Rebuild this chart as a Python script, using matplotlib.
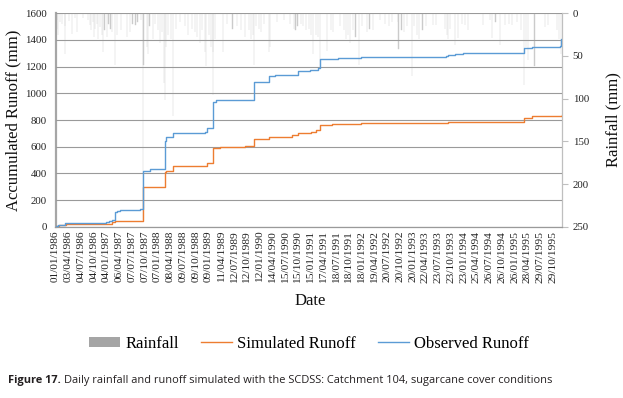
import matplotlib
matplotlib.use("Agg")
import matplotlib.pyplot as plt
from matplotlib.patches import Patch
from matplotlib.lines import Line2D
import pandas as pd

# ---------------- data ----------------
tick_labels = ["01/01/1986", "03/04/1986", "04/07/1986", "04/10/1986", "04/01/1987",
               "06/04/1987", "07/07/1987", "07/10/1987", "07/01/1988", "08/04/1988",
               "09/07/1988", "09/10/1988", "09/01/1989", "11/04/1989", "12/07/1989",
               "12/10/1989", "12/01/1990", "14/04/1990", "15/07/1990", "15/10/1990",
               "15/01/1991", "17/04/1991", "18/07/1991", "18/10/1991", "18/01/1992",
               "19/04/1992", "20/07/1992", "20/10/1992", "20/01/1993", "22/04/1993",
               "23/07/1993", "23/10/1993", "23/01/1994", "25/04/1994", "26/07/1994",
               "26/10/1994", "26/01/1995", "28/04/1995", "29/07/1995", "29/10/1995"]

obs_dates = ["1986-01-01", "1986-01-15", "1986-03-10", "1986-12-31", "1987-01-20",
             "1987-02-10", "1987-03-05", "1987-03-20", "1987-04-10", "1987-06-15",
             "1987-09-01", "1987-09-26", "1987-11-15", "1988-02-15", "1988-03-01",
             "1988-03-10", "1988-04-25", "1988-12-15", "1988-12-25", "1989-02-07",
             "1989-03-05", "1989-12-01", "1989-12-05", "1990-03-20", "1990-05-01",
             "1990-10-01", "1990-10-15", "1991-01-10", "1991-03-10", "1991-03-25",
             "1991-08-01", "1992-01-15", "1993-09-20", "1993-10-01", "1993-11-20",
             "1994-01-15", "1995-03-15", "1995-04-05", "1995-06-01", "1995-12-20",
             "1995-12-28", "1995-12-31"]
obs_vals = [5, 12, 30, 32, 42, 50, 110, 118, 122, 127, 130, 420, 430, 432, 640,
            675, 705, 710, 742, 938, 948, 952, 1082, 1130, 1135, 1140, 1168, 1178,
            1187, 1257, 1268, 1275, 1277, 1288, 1295, 1300, 1302, 1342, 1350, 1352,
            1405, 1405]

sim_dates = ["1986-01-01", "1986-01-25", "1986-03-20", "1987-02-05", "1987-02-12",
             "1987-03-05", "1987-09-26", "1988-03-01", "1988-03-10", "1988-04-25",
             "1988-12-20", "1988-12-25", "1989-02-07", "1989-04-01", "1989-10-01",
             "1989-12-05", "1990-03-20", "1990-09-01", "1990-10-15", "1991-01-15",
             "1991-02-20", "1991-03-25", "1991-06-15", "1992-01-15", "1993-10-01",
             "1994-01-15", "1995-04-05", "1995-06-01", "1995-12-31"]
sim_vals = [5, 10, 17, 20, 38, 42, 300, 410, 420, 455, 458, 478, 587, 598, 605,
            655, 675, 690, 705, 710, 728, 760, 770, 775, 782, 788, 818, 828, 835]

rain_dates = ["1986-01-08", "1986-01-12", "1986-01-20", "1986-02-02", "1986-02-15",
              "1986-03-08", "1986-03-12", "1986-04-10", "1986-04-27", "1986-05-20",
              "1986-06-02", "1986-07-15", "1986-08-20", "1986-09-05", "1986-09-15",
              "1986-09-28", "1986-10-05", "1986-10-15", "1986-10-25", "1986-11-05",
              "1986-11-18", "1986-12-01", "1986-12-07", "1986-12-20",
              "1987-01-05", "1987-01-18", "1987-02-01", "1987-02-12", "1987-03-05",
              "1987-03-20", "1987-04-15", "1987-05-31", "1987-06-20", "1987-07-10",
              "1987-08-01", "1987-08-15", "1987-09-10", "1987-09-26", "1987-09-27",
              "1987-10-22", "1987-10-28", "1987-11-10", "1987-12-05", "1987-12-20",
              "1988-01-10", "1988-01-25", "1988-02-10", "1988-02-25", "1988-03-01",
              "1988-03-05", "1988-03-20", "1988-04-10", "1988-04-28", "1988-05-20",
              "1988-06-15", "1988-07-20", "1988-08-15", "1988-09-10", "1988-10-01",
              "1988-10-20", "1988-11-10", "1988-11-25", "1988-12-15", "1988-12-22",
              "1989-01-10", "1989-01-25", "1989-02-07", "1989-02-08", "1989-02-25",
              "1989-04-26", "1989-05-20", "1989-06-30", "1989-08-01", "1989-09-01",
              "1989-10-01", "1989-10-25", "1989-11-10", "1989-11-25", "1989-12-03",
              "1989-12-20",
              "1990-01-10", "1990-01-25", "1990-02-10", "1990-03-18", "1990-03-28",
              "1990-05-15", "1990-07-10", "1990-08-20", "1990-09-15", "1990-09-28",
              "1990-10-12", "1990-11-05", "1990-11-20", "1990-12-10",
              "1991-01-05", "1991-01-20", "1991-02-01", "1991-02-20", "1991-03-10",
              "1991-03-24", "1991-05-12", "1991-06-10", "1991-06-27", "1991-08-15",
              "1991-09-10", "1991-09-25", "1991-10-10", "1991-10-28", "1991-11-15",
              "1991-12-05", "1991-12-30",
              "1992-01-20", "1992-02-26", "1992-03-15", "1992-04-08", "1992-06-01",
              "1992-07-06", "1992-08-01", "1992-08-26", "1992-10-05", "1992-10-10",
              "1992-11-01", "1992-11-20", "1992-12-10",
              "1993-01-15", "1993-02-01", "1993-02-20", "1993-03-10", "1993-04-01",
              "1993-04-25", "1993-06-15", "1993-07-10", "1993-09-10", "1993-09-25",
              "1993-10-05", "1993-10-18", "1993-11-23", "1993-12-15",
              "1994-01-10", "1994-02-02", "1994-02-24", "1994-06-13", "1994-08-01",
              "1994-08-15", "1994-09-10", "1994-10-14", "1994-11-19", "1994-12-15",
              "1995-01-08", "1995-02-15", "1995-03-15", "1995-04-03", "1995-04-20",
              "1995-05-02", "1995-06-18", "1995-09-04", "1995-09-26", "1995-11-25",
              "1995-12-10", "1995-12-26"]
rain_mm = [18, 8, 25, 10, 12, 48, 15, 9, 24, 6,
           22, 5, 8, 14, 20, 10, 28, 18, 12, 30,
           16, 25, 45, 20,
           28, 12, 18, 22, 60, 26, 20, 28, 22, 12,
           14, 10, 8, 242, 60, 40, 48, 15, 30, 12,
           20, 35, 22, 82, 101, 40, 25, 30, 120, 18,
           10, 15, 25, 18, 22, 28, 35, 20, 45, 62,
           25, 40, 96, 45, 30, 45, 12, 18, 15, 20,
           28, 20, 30, 25, 60, 15,
           18, 22, 12, 45, 40, 10, 8, 12, 18, 20,
           15, 12, 15, 20,
           18, 25, 48, 25, 28, 64, 44, 20, 22, 15,
           20, 30, 25, 35, 20, 28, 60,
           15, 22, 18, 20, 8, 12, 15, 10, 10, 42,
           20, 22, 15,
           74, 15, 25, 30, 20, 15, 14, 14, 18, 25,
           30, 18, 37, 29,
           12, 14, 20, 14, 8, 29, 10, 37, 14, 12,
           14, 10, 20, 84, 40, 55, 62, 16, 14, 20,
           30, 48]

# ---------------- figure ----------------
serif = ["Liberation Serif", "DejaVu Serif"]
sans = ["Open Sans", "DejaVu Sans"]
plt.rcParams['font.family'] = serif

W, H = 623, 398
fig = plt.figure(figsize=(W / 100, H / 100), dpi=100)
left, right, top, bottom = 55.5, 561.7, 13.3, 226.7
ax = fig.add_axes([left / W, 1 - bottom / H, (right - left) / W, (bottom - top) / H])
ax2 = ax.twinx()

blue = "#5b9bd5"
orange = "#ed7d31"
grey = "#a5a5a5"

obs_d = pd.to_datetime(obs_dates)
sim_d = pd.to_datetime(sim_dates)
rain_d = pd.to_datetime(rain_dates)

ax2.bar(rain_d, rain_mm, width=1.0, color="#cbcbcb", edgecolor="#cbcbcb",
        linewidth=0.3, zorder=1)
ax2.set_ylim(250, 0)
ax2.set_yticks([0, 50, 100, 150, 200, 250])

ax.step(sim_d, sim_vals, where="post", color=orange, lw=1.0, zorder=3)
ax.step(obs_d, obs_vals, where="post", color=blue, lw=1.0, zorder=4)

ax.set_zorder(ax2.get_zorder() + 1)
ax.patch.set_visible(False)

ax.set_ylim(0, 1600)
ax.set_yticks(range(0, 1601, 200))
xmin = pd.Timestamp("1986-01-01") - pd.Timedelta(hours=12)
xmax = pd.Timestamp("1995-12-31") + pd.Timedelta(hours=12)
ax.set_xlim(xmin, xmax)

tick_pos = pd.to_datetime(tick_labels, format="%d/%m/%Y")
ax.set_xticks(tick_pos)
ax.set_xticklabels(tick_labels, rotation=90, fontsize=8.2, color="#222222")
ax.tick_params(axis="x", length=0, pad=3)
ax.tick_params(axis="y", length=0, labelsize=7.8, pad=6, colors="#222222")
ax2.tick_params(axis="y", length=4, width=0.8, color="#bfbfbf", labelsize=7.8,
                pad=4, labelcolor="#222222")
for lab in ax.get_xticklabels() + ax.get_yticklabels() + ax2.get_yticklabels():
    lab.set_family(serif)

ax.grid(axis="y", color="#9a9a9a", lw=0.8)
ax.set_axisbelow(False)
for s in ["top", "right"]:
    ax.spines[s].set_visible(False)
    ax2.spines[s].set_visible(False)
ax2.spines["left"].set_visible(False)
ax2.spines["bottom"].set_visible(False)
ax.spines["left"].set_color("#a6a6a6")
ax.spines["left"].set_linewidth(1.6)
ax.spines["bottom"].set_color("#9a9a9a")
ax.spines["bottom"].set_linewidth(0.9)
ax2.spines["right"].set_visible(True)
ax2.spines["right"].set_color("#bfbfbf")
ax2.spines["right"].set_linewidth(0.9)

ax.set_ylabel("Accumulated Runoff (mm)", fontsize=12, color="#111111")
ax.yaxis.set_label_coords(-0.067, 0.5)
ax2.set_ylabel("Rainfall (mm)", fontsize=12, color="#111111", rotation=90)
ax2.yaxis.set_label_coords(1.0855, 0.5)
ax.set_xlabel("Date", fontsize=12, color="#111111")
ax.xaxis.set_label_coords(0.503, -0.31)

handles = [Patch(facecolor=grey, edgecolor="none"),
           Line2D([0], [0], color=orange, lw=1.0),
           Line2D([0], [0], color=blue, lw=1.0)]
fig.legend(handles, ["Rainfall", "Simulated Runoff", "Observed Runoff"],
           loc="center", bbox_to_anchor=(309 / W, 1 - 344 / H), ncol=3,
           frameon=False, fontsize=12, handlelength=1.9, handleheight=0.6,
           handletextpad=0.3, columnspacing=1.3)

cap_y = 1 - 381 / H
t1 = fig.text(8 / W, cap_y, "Figure 17.", fontsize=7.9, fontweight="bold",
              family=sans, va="center", ha="left", color="#231f20")
fig.canvas.draw()
bb = t1.get_window_extent()
fig.text((bb.x1 + 3) / W, cap_y,
         "Daily rainfall and runoff simulated with the SCDSS: Catchment 104, sugarcane cover conditions",
         fontsize=7.9, family=sans, va="center", ha="left", color="#231f20")

fig.savefig("out.png", dpi=100, facecolor="white")
